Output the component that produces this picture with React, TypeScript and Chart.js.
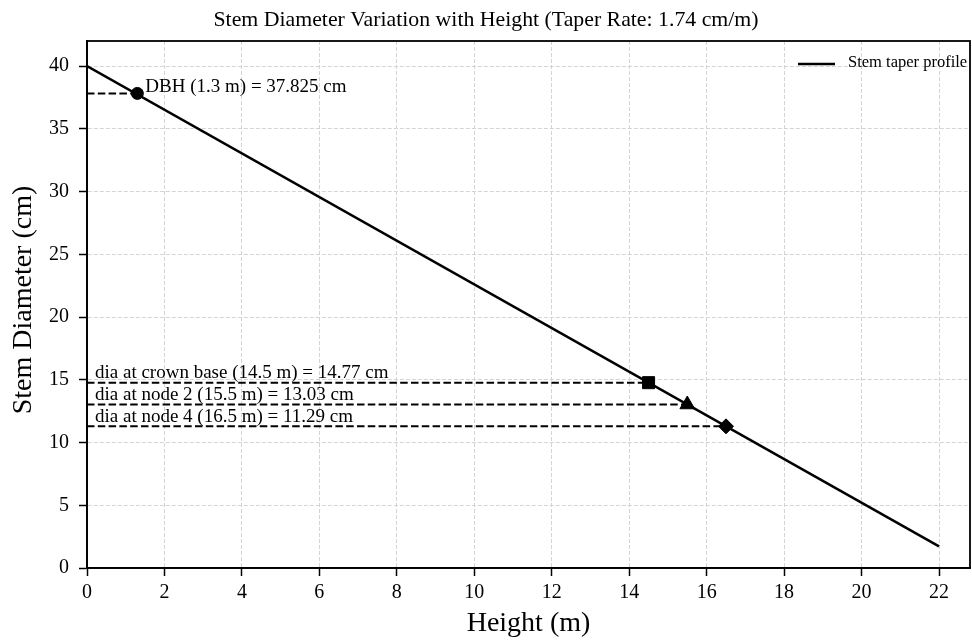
import React, { useEffect, useRef } from "react";
import { Chart, registerables } from "chart.js";

Chart.register(...registerables);

const FONT = "'Liberation Serif', 'Times New Roman', serif";

const titleText = "Stem Diameter Variation with Height (Taper Rate: 1.74 cm/m)";
const xAxisTitle = "Height (m)";
const yAxisTitle = "Stem Diameter (cm)";
const legendLabel = "Stem taper profile";

const profileHeights = [0, 22];
const profileDiameters = [40, 1.72];

const markerHeights = [1.3, 14.5, 15.5, 16.5];
const markerDiameters = [37.825, 14.77, 13.03, 11.29];
const markerStyles = ["circle", "rect", "triangle", "rectRot"];
const markerRadii = [6, 8.5, 8.5, 7.5];
const markerLabels = [
  "DBH (1.3 m) = 37.825 cm",
  "dia at crown base (14.5 m) = 14.77 cm",
  "dia at node 2 (15.5 m) = 13.03 cm",
  "dia at node 4 (16.5 m) = 11.29 cm",
];

const xTicks = [0, 2, 4, 6, 8, 10, 12, 14, 16, 18, 20, 22];
const yTicks = [0, 5, 10, 15, 20, 25, 30, 35, 40];
const xMin = 0;
const xMax = 22.8;
const yMin = 0;
const yMax = 42;

const overlay = {
  id: "overlay",
  afterDatasetsDraw(chart: any) {
    const { ctx, chartArea: a, scales } = chart;
    const x = scales.x;
    const y = scales.y;
    ctx.save();
    // frame
    ctx.strokeStyle = "#000";
    ctx.lineWidth = 1.8;
    ctx.setLineDash([]);
    ctx.strokeRect(a.left, a.top, a.right - a.left, a.bottom - a.top);

    // annotations
    ctx.fillStyle = "#000";
    ctx.font = `19px ${FONT}`;
    ctx.textAlign = "left";
    markerLabels.forEach((t, i) => {
      const py = y.getPixelForValue(markerDiameters[i]);
      if (i === 0) {
        ctx.textBaseline = "middle";
        ctx.fillText(t, x.getPixelForValue(markerHeights[i]) + 8, py - 6);
      } else {
        ctx.textBaseline = "bottom";
        ctx.fillText(t, a.left + 8, py);
      }
    });

    // legend
    const ly = a.top + 23;
    ctx.strokeStyle = "#000";
    ctx.lineWidth = 2.7;
    ctx.beginPath();
    ctx.moveTo(a.right - 172, ly);
    ctx.lineTo(a.right - 135, ly);
    ctx.stroke();
    ctx.font = `16.5px ${FONT}`;
    ctx.textBaseline = "middle";
    ctx.fillText(legendLabel, a.right - 122, ly - 1);

    // title
    ctx.font = `21.8px ${FONT}`;
    ctx.textAlign = "center";
    ctx.textBaseline = "middle";
    ctx.fillText(titleText, 486, 20);

    // axis titles
    ctx.font = `28px ${FONT}`;
    ctx.fillText(xAxisTitle, (a.left + a.right) / 2, 624);
    ctx.save();
    ctx.translate(24, 300);
    ctx.rotate(-Math.PI / 2);
    ctx.fillText(yAxisTitle, 0, 0);
    ctx.restore();

    ctx.restore();
  },
};

export default function App() {
  const ref = useRef<HTMLCanvasElement | null>(null);

  useEffect(() => {
    document.body.style.margin = "0";
    document.body.style.overflow = "hidden";
    const canvas = ref.current;
    if (!canvas) return;

    const dashedSets = markerHeights.map((h, i) => ({
      label: "ref" + i,
      data: [
        { x: 0, y: markerDiameters[i] },
        { x: h, y: markerDiameters[i] },
      ],
      borderColor: "#000",
      borderWidth: 2,
      borderDash: [7.5, 3.3],
      pointRadius: 0,
      fill: false,
      order: 3,
    }));

    const markerSets = markerHeights.map((h, i) => ({
      label: "marker" + i,
      data: [{ x: h, y: markerDiameters[i] }],
      showLine: false,
      pointStyle: markerStyles[i],
      pointRadius: markerRadii[i],
      pointBackgroundColor: "#000",
      pointBorderColor: "#000",
      pointBorderWidth: 1,
      order: 1,
    }));

    const gridOpts: any = {
      color: "#d4d4d4",
      lineWidth: 1,
      tickBorderDash: [],
      tickColor: "#000",
      tickLength: 8,
      tickWidth: 1.5,
    };
    const borderOpts: any = { display: true, color: "#000", width: 1.8, dash: [4, 2] };

    const chart = new Chart(canvas, {
      type: "line",
      data: {
        datasets: [
          {
            label: legendLabel,
            data: profileHeights.map((h, i) => ({ x: h, y: profileDiameters[i] })),
            borderColor: "#000",
            borderWidth: 2.5,
            pointRadius: 0,
            fill: false,
            order: 2,
          },
          ...dashedSets,
          ...markerSets,
        ] as any,
      },
      options: {
        animation: false,
        responsive: false,
        devicePixelRatio: 1,
        layout: { autoPadding: false, padding: { left: 0, top: 41, right: 2, bottom: 0 } },
        plugins: {
          legend: { display: false },
          tooltip: { enabled: false },
          title: { display: false },
        },
        scales: {
          x: {
            type: "linear",
            min: xMin,
            max: xMax,
            afterBuildTicks: (s: any) => {
              s.ticks = xTicks.map((v) => ({ value: v }));
            },
            afterFit: (s: any) => {
              s.height = 74;
              s.paddingLeft = 0;
              s.paddingRight = 0;
            },
            grid: gridOpts,
            border: borderOpts,
            ticks: {
              color: "#000",
              font: { family: FONT, size: 20 },
              padding: 5,
              autoSkip: false,
              maxRotation: 0,
              callback: (v: any) => String(v),
            },
          },
          y: {
            type: "linear",
            min: yMin,
            max: yMax,
            afterBuildTicks: (s: any) => {
              s.ticks = yTicks.map((v) => ({ value: v }));
            },
            afterFit: (s: any) => {
              s.width = 87;
              s.paddingTop = 0;
              s.paddingBottom = 0;
            },
            grid: gridOpts,
            border: borderOpts,
            ticks: {
              color: "#000",
              font: { family: FONT, size: 20 },
              padding: 10,
              autoSkip: false,
              callback: (v: any) => String(v),
            },
          },
        },
      },
      plugins: [overlay],
    });

    return () => chart.destroy();
  }, []);

  return (
    <div style={{ width: 972, height: 642, background: "#fff" }}>
      <canvas ref={ref} width={972} height={642} style={{ display: "block" }} />
    </div>
  );
}
